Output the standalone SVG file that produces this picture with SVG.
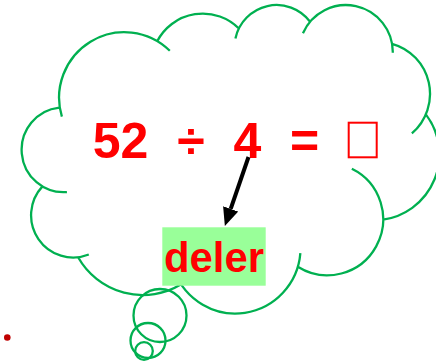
<svg xmlns="http://www.w3.org/2000/svg" width="436" height="363" viewBox="0 0 436 363">
<style>
.g{fill:none;stroke:#00B050;stroke-width:2.3}
.t{font-family:"Liberation Sans",Arial,sans-serif;font-weight:bold;fill:#FF0000;text-anchor:middle}
</style>
<defs>
<marker id="ah" viewBox="0 -8 18 16" markerWidth="18" markerHeight="16" refX="0" refY="0" orient="auto" markerUnits="userSpaceOnUse">
<path d="M0,-8 L18,0 L0,8 z" fill="#000"/>
</marker>
</defs>
<rect width="436" height="363" fill="#fff"/>
<g id="cloud">
<path class="g" d="M61.88,116.69 A65.21,65.61 0 0 1 169.81,50.73
M157.27,41.11 A51.50,51.88 0 0 1 238.89,28.49
M235.41,38.42 A42.15,42.44 0 0 1 310.12,21.71
M302.95,33.22 A46.90,47.08 0 0 1 392.79,52.82
M392.05,43.80 A51.50,51.92 0 0 1 411.88,133.46
M425.85,114.37 A65.42,65.82 0 0 1 383.23,219.62
M351.83,168.67 A55.86,56.16 0 1 1 297.78,266.80
M300.36,253.16 A65.20,65.79 0 0 1 174.73,271.87
M181.18,284.30 A74.54,75.27 0 0 1 78.11,257.21
M88.80,254.49 A42.10,42.25 0 0 1 42.45,186.38
M66.92,192.07 A41.96,42.44 0 0 1 59.36,107.54"/>
</g>
<g id="bubbles">
<circle class="g" cx="160" cy="315.5" r="26.5"/>
<circle class="g" cx="148" cy="340.5" r="17.5"/>
<circle class="g" cx="144" cy="351" r="8.8"/>
</g>
<g id="equation">
<text class="t" x="120.5" y="158" font-size="50">52</text>
<text class="t" x="191" y="158" font-size="50">÷</text>
<text class="t" x="247.5" y="158" font-size="50">4</text>
<text class="t" x="304.5" y="158" font-size="50">=</text>
<rect x="348.7" y="122.7" width="28" height="34.6" fill="none" stroke="#FF0000" stroke-width="2"/>
</g>
<g id="deler">
<rect x="162.3" y="227.3" width="103.4" height="58.4" fill="#99FF99"/>
<text class="t" x="214" y="272" font-size="43" textLength="100" lengthAdjust="spacingAndGlyphs">deler</text>
</g>
<g id="connectors">
<line x1="248.5" y1="157" x2="230.7" y2="208.9" stroke="#000" stroke-width="4" marker-end="url(#ah)"/>
</g>
<circle id="dot" cx="7.3" cy="337.5" r="3.3" fill="#C00000"/>
</svg>
